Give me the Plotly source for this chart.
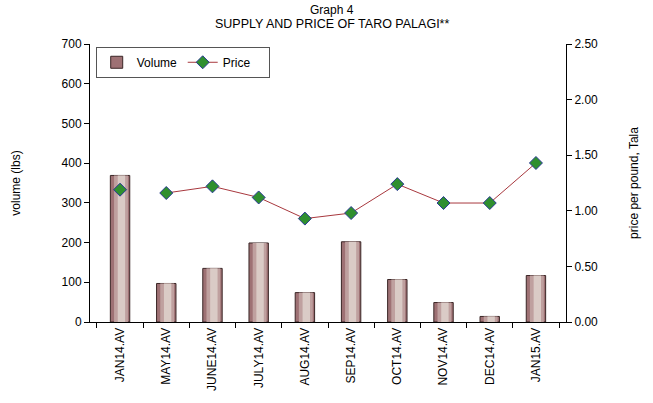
import plotly.graph_objects as go

categories = ["JAN14.AV", "MAY14.AV", "JUNE14.AV", "JULY14.AV", "AUG14.AV",
              "SEP14.AV", "OCT14.AV", "NOV14.AV", "DEC14.AV", "JAN15.AV"]
volume = [369, 97, 135, 199, 74, 202, 107, 49, 14, 117]
price = [1.19, 1.16, 1.22, 1.12, 0.93, 0.98, 1.24, 1.07, 1.07, 1.43]

left_ticks = [0, 100, 200, 300, 400, 500, 600, 700]
right_ticks = [0, 0.5, 1.0, 1.5, 2.0, 2.5]
right_ticklabels = ["0.00", "0.50", "1.00", "1.50", "2.00", "2.50"]

FONT = "Liberation Sans, Arial, sans-serif"

fig = go.Figure()

# bars with faux cylindrical shading (overlaid layers)
fig.add_trace(go.Bar(x=categories, y=volume, name="Volume", width=0.42,
                     marker=dict(color="#9e7174", line=dict(color="#3a2626", width=1)),
                     yaxis="y"))
fig.add_trace(go.Bar(x=categories, y=volume, width=0.30, offset=-0.13, showlegend=False,
                     marker=dict(color="#bfa09f", line=dict(width=0)), hoverinfo="skip", yaxis="y"))
fig.add_trace(go.Bar(x=categories, y=volume, width=0.16, offset=-0.05, showlegend=False,
                     marker=dict(color="#dacbc6", line=dict(width=0)), hoverinfo="skip", yaxis="y"))

marker_style = dict(symbol="diamond", size=10, color="#2f8f2f",
                    line=dict(color="#2a3a95", width=1))

fig.add_trace(go.Scatter(x=categories[1:], y=price[1:], name="Price", mode="lines+markers",
                         line=dict(color="#a8383e", width=1), marker=marker_style, yaxis="y2"))
fig.add_trace(go.Scatter(x=categories[:1], y=price[:1], mode="markers", showlegend=False,
                         marker=marker_style, yaxis="y2"))

fig.update_layout(
    width=653, height=403,
    margin=dict(l=90, r=87, t=44, b=79),
    paper_bgcolor="white", plot_bgcolor="white",
    font=dict(family=FONT, size=12, color="black"),
    barmode="overlay",
    annotations=[
        dict(text="Graph 4", xref="paper", yref="paper", x=0.508, y=1, yshift=34,
             xanchor="center", yanchor="middle", showarrow=False, font=dict(size=12)),
        dict(text="SUPPLY AND PRICE OF TARO PALAGI**", xref="paper", yref="paper", x=0.508,
             y=1, yshift=20, xanchor="center", yanchor="middle", showarrow=False,
             font=dict(size=12.5)),
    ],
    xaxis=dict(type="category", tickangle=-90, showline=True, linecolor="black", linewidth=1,
               ticks="outside", ticklen=5, tickson="boundaries", tickcolor="black",
               showgrid=False, tickfont=dict(size=12)),
    yaxis=dict(range=[0, 700], tickvals=left_ticks, showline=True, linecolor="black",
               linewidth=1, ticks="outside", ticklen=5, tickcolor="black", showgrid=False,
               zeroline=False,
               title=dict(text="volume (lbs)", font=dict(size=12), standoff=38)),
    yaxis2=dict(range=[0, 2.5], tickvals=right_ticks, ticktext=right_ticklabels,
                overlaying="y", side="right", showline=True, linecolor="black", linewidth=1,
                ticks="outside", ticklen=5, tickcolor="black", showgrid=False, zeroline=False,
                title=dict(text="price per pound, Tala", font=dict(size=12), standoff=32)),
    legend=dict(orientation="h", x=0.012, y=0.99, xanchor="left", yanchor="top",
                bordercolor="#555555", borderwidth=1, bgcolor="white",
                font=dict(size=12), entrywidth=41, itemwidth=30),
    showlegend=True,
)

fig.write_html("out.html", config={"displayModeBar": False},
               post_script="document.body.style.margin='0';document.body.style.overflow='hidden';")
